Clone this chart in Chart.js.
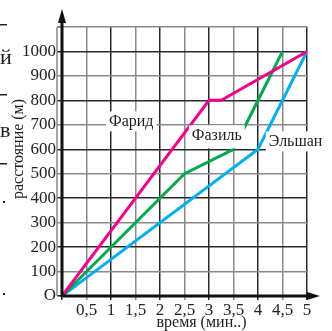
<!DOCTYPE html>
<html><head><meta charset="utf-8">
<script src="https://cdn.jsdelivr.net/npm/chart.js@4/dist/chart.umd.min.js"></script>
<style>html,body{margin:0;padding:0;background:#fff}#wrap{width:332px;height:331px;position:relative}</style>
</head><body><div id="wrap"><canvas id="c" width="332" height="331"></canvas></div>
<script>
// Data (time in minutes, distance in metres)
const faridT = [0, 3, 3.25, 5];
const faridD = [0, 800, 800, 1000];
const fazilT = [0, 2.5, 3.5, 4.5];
const fazilD = [0, 500, 600, 1000];
const elshanT = [0, 4, 5];
const elshanD = [0, 600, 1000];
const seriesNames = ['Фарид', 'Фазиль', 'Эльшан'];
const xTicks = [0, 0.5, 1, 1.5, 2, 2.5, 3, 3.5, 4, 4.5, 5];
const yTicks = [0, 100, 200, 300, 400, 500, 600, 700, 800, 900, 1000, 1100];
const xTitle = 'время (мин..)';
const yTitle = 'расстояние (м)';

const toPts = (t, d) => t.map((v, i) => ({x: v, y: d[i]}));
const SERIF = '"Liberation Serif", "DejaVu Serif", serif';
const DARK = '#2a2a2a', GRAY = '#8a8a8a';

const extras = {
  id: 'extras',
  beforeDatasetsDraw(chart) {
    const {ctx, chartArea: a} = chart;
    ctx.save();
    ctx.strokeStyle = GRAY; ctx.lineWidth = 1.5;
    ctx.beginPath(); ctx.moveTo(a.left - 5, a.top); ctx.lineTo(a.left - 5, a.bottom); ctx.stroke();
    ctx.beginPath(); ctx.moveTo(a.left - 5, a.top); ctx.lineTo(a.left, a.top); ctx.stroke();
    ctx.restore();
  },
  afterDatasetsDraw(chart) {
    const {ctx, chartArea: a, scales: {x, y}} = chart;
    ctx.save();
    ctx.strokeStyle = '#111'; ctx.fillStyle = '#111'; ctx.lineWidth = 3;
    ctx.beginPath(); ctx.moveTo(a.left, a.bottom + 1); ctx.lineTo(a.left, a.top - 8); ctx.stroke();
    ctx.beginPath(); ctx.moveTo(a.left - 1, a.bottom); ctx.lineTo(a.right + 6, a.bottom); ctx.stroke();
    ctx.beginPath(); ctx.moveTo(a.left, a.top - 18); ctx.lineTo(a.left - 4, a.top - 4); ctx.lineTo(a.left + 4, a.top - 4); ctx.closePath(); ctx.fill();
    ctx.beginPath(); ctx.moveTo(a.right + 13, a.bottom); ctx.lineTo(a.right, a.bottom - 4); ctx.lineTo(a.right, a.bottom + 4); ctx.closePath(); ctx.fill();
    ctx.font = '16px ' + SERIF; ctx.textBaseline = 'middle'; ctx.textAlign = 'left';
    const lab = [[seriesNames[0], 0.96, 714, 10], [seriesNames[1], 2.65, 657, 13], [seriesNames[2], 4.22, 632, 10]];
    lab.forEach(([t, tx, dy, down]) => {
      const px = x.getPixelForValue(tx), py = y.getPixelForValue(dy);
      const w = ctx.measureText(t).width;
      ctx.fillStyle = '#fff';
      ctx.fillRect(px - 3, py - 10, w + 6, 10 + down);
      ctx.fillStyle = '#222';
      ctx.fillText(t, px, py);
    });
    ctx.fillStyle = '#222';
    ctx.font = '16px ' + SERIF; ctx.textAlign = 'center'; ctx.textBaseline = 'alphabetic';
    ctx.fillText(xTitle, (a.left + a.right) / 2 + 17, 327);
    ctx.save(); ctx.translate(23, 149); ctx.rotate(-Math.PI / 2);
    ctx.fillText(yTitle, 0, 0); ctx.restore();
    ctx.font = '22px ' + SERIF; ctx.textAlign = 'left';
    ctx.fillText('й', 0, 64);
    ctx.fillText('в', 0, 137);
    ctx.fillRect(0, 24, 7, 1.5); ctx.fillRect(0, 94, 7, 1.5); ctx.fillRect(0, 163, 7, 1.5);
    ctx.fillRect(3, 201, 2, 2); ctx.fillRect(3, 293, 2, 2);
    ctx.restore();
  }
};

new Chart(document.getElementById('c'), {
  type: 'line',
  data: {
    datasets: [
      {label: seriesNames[0], data: toPts(faridT, faridD), borderColor: '#ec008c'},
      {label: seriesNames[1], data: toPts(fazilT, fazilD), borderColor: '#00a651'},
      {label: seriesNames[2], data: toPts(elshanT, elshanD), borderColor: '#00aeef'}
    ]
  },
  options: {
    responsive: false, animation: false, devicePixelRatio: 1,
    layout: {padding: {left: 0, right: 25, top: 27, bottom: 0}},
    elements: {line: {borderWidth: 3, tension: 0, fill: false}, point: {radius: 0}},
    plugins: {legend: {display: false}, tooltip: {enabled: false}},
    scales: {
      x: {
        type: 'linear', min: 0, max: 5,
        afterBuildTicks: s => { s.ticks = xTicks.map(v => ({value: v})); },
        afterFit: s => { s.height = 35; },
        border: {display: false},
        grid: {color: c => (c.tick && Number.isInteger(c.tick.value)) ? DARK : GRAY, lineWidth: 1.5, tickLength: 4},
        ticks: {font: {family: SERIF, size: 17}, color: '#222', padding: 0, maxRotation: 0, autoSkip: false,
          callback: v => v === 0 ? '' : String(v).replace('.', ',')}
      },
      y: {
        type: 'linear', min: 0, max: 1100,
        afterBuildTicks: s => { s.ticks = yTicks.map(v => ({value: v})); },
        afterFit: s => { s.width = 62; },
        border: {display: false},
        grid: {color: c => (c.tick && c.tick.value % 200 === 0) ? DARK : GRAY, lineWidth: 1.5, tickLength: 5},
        ticks: {font: {family: SERIF, size: 17}, color: '#222', padding: 1, autoSkip: false,
          callback: v => v === 0 ? 'O' : (v === 1100 ? '' : String(v))}
      }
    }
  },
  plugins: [extras]
});
</script></body></html>
